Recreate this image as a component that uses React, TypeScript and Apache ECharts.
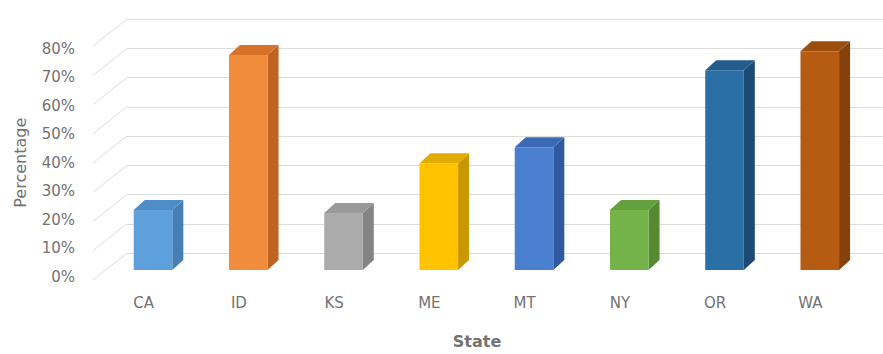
import React, { useEffect, useRef } from "react";
import * as echarts from "echarts";

const states = ["CA", "ID", "KS", "ME", "MT", "NY", "OR", "WA"];
const percentages = [20.5, 73.5, 19.5, 36.5, 42, 20.5, 68.3, 74.8];
const tickValues = [0, 10, 20, 30, 40, 50, 60, 70, 80];

const frontColors = ["#5DA0DC", "#F08C3C", "#ABABAB", "#FFC300", "#4A7ECF", "#73B34A", "#2A6EA6", "#B55C12"];
const sideColors = ["#467FB3", "#BE6420", "#848484", "#C99700", "#2F5A9F", "#558A33", "#1B4B74", "#84410B"];
const topColors = ["#4F8DC6", "#D8722A", "#999999", "#E2AC00", "#3D6AB6", "#64A03E", "#235C8D", "#9C4E0E"];

const TEXT = "#727272";
const FONT = "'DejaVu Sans', sans-serif";

export default function App() {
  const ref = useRef<HTMLDivElement>(null);
  useEffect(() => {
    if (!ref.current) return;
    const chart = echarts.init(ref.current, null, { renderer: "svg" });
    const H = 234;
    const W = 762;
    chart.setOption({
      animation: false,
      backgroundColor: "#ffffff",
      grid: [
        // back wall
        { left: 127, top: 253 - H, width: W, height: H },
        // bar plane
        { left: 105.4, top: 270 - H, width: W, height: H },
        // front plane (labels)
        { left: 96, top: 282.5 - H, width: W, height: H },
      ],
      xAxis: [
        { type: "category", gridIndex: 0, data: states, show: false },
        { type: "category", gridIndex: 1, data: states, show: false },
        {
          type: "category",
          gridIndex: 2,
          data: states,
          axisLine: { show: false },
          axisTick: { show: false },
          axisLabel: { color: TEXT, fontFamily: FONT, fontSize: 15, margin: 18 },
          name: "State",
          nameLocation: "middle",
          nameGap: 56,
          nameTextStyle: { color: TEXT, fontFamily: FONT, fontSize: 16, fontWeight: "bold" },
        },
      ],
      yAxis: [
        {
          type: "value",
          gridIndex: 0,
          min: 0,
          max: 80,
          interval: 10,
          axisLine: { show: false },
          axisTick: { show: false },
          axisLabel: { show: false },
          splitLine: { show: true, lineStyle: { color: "#DCDCDC", width: 1 } },
        },
        { type: "value", gridIndex: 1, min: 0, max: 80, interval: 10, show: false, splitLine: { show: false } },
        {
          type: "value",
          gridIndex: 2,
          min: 0,
          max: 80,
          interval: 10,
          axisLine: { show: false },
          axisTick: { show: false },
          splitLine: { show: false },
          axisLabel: { color: TEXT, fontFamily: FONT, fontSize: 15, margin: 21, formatter: "{value}%" },
          name: "Percentage",
          nameLocation: "middle",
          nameGap: 68,
          nameTextStyle: { color: TEXT, fontFamily: FONT, fontSize: 16 },
        },
      ],
      series: [
        {
          type: "custom",
          xAxisIndex: 0,
          yAxisIndex: 0,
          silent: true,
          data: tickValues.map((v) => [0, v]),
          renderItem: (params: any, api: any) => {
            const cs = params.coordSys;
            const y = api.coord([0, api.value(1)])[1];
            return {
              type: "line",
              shape: { x1: cs.x - 34, y1: y + 27, x2: cs.x, y2: y },
              style: { stroke: "#DCDCDC", lineWidth: 1 },
            };
          },
        },
        {
          type: "custom",
          xAxisIndex: 1,
          yAxisIndex: 1,
          data: percentages.map((v, i) => [i, v]),
          renderItem: (params: any, api: any) => {
            const idx = api.value(0);
            const val = api.value(1);
            const top = api.coord([idx, val]);
            const bot = api.coord([idx, 0]);
            const band = api.size([1, 0])[0];
            const w = band * 0.405;
            const x0 = top[0] - w / 2;
            const x1 = top[0] + w / 2;
            const yT = top[1];
            const yB = bot[1];
            const dx = 11;
            const dy = -10;
            return {
              type: "group",
              children: [
                {
                  type: "polygon",
                  shape: { points: [[x1, yT], [x1 + dx, yT + dy], [x1 + dx, yB + dy], [x1, yB]] },
                  style: { fill: sideColors[idx] },
                },
                {
                  type: "polygon",
                  shape: { points: [[x0, yT], [x1, yT], [x1 + dx, yT + dy], [x0 + dx, yT + dy]] },
                  style: { fill: topColors[idx] },
                },
                {
                  type: "rect",
                  shape: { x: x0, y: yT, width: w, height: yB - yT },
                  style: { fill: frontColors[idx] },
                },
              ],
            };
          },
        },
      ],
    });
    return () => chart.dispose();
  }, []);
  return <div ref={ref} style={{ width: 883, height: 354, position: "absolute", left: 0, top: 0 }} />;
}
